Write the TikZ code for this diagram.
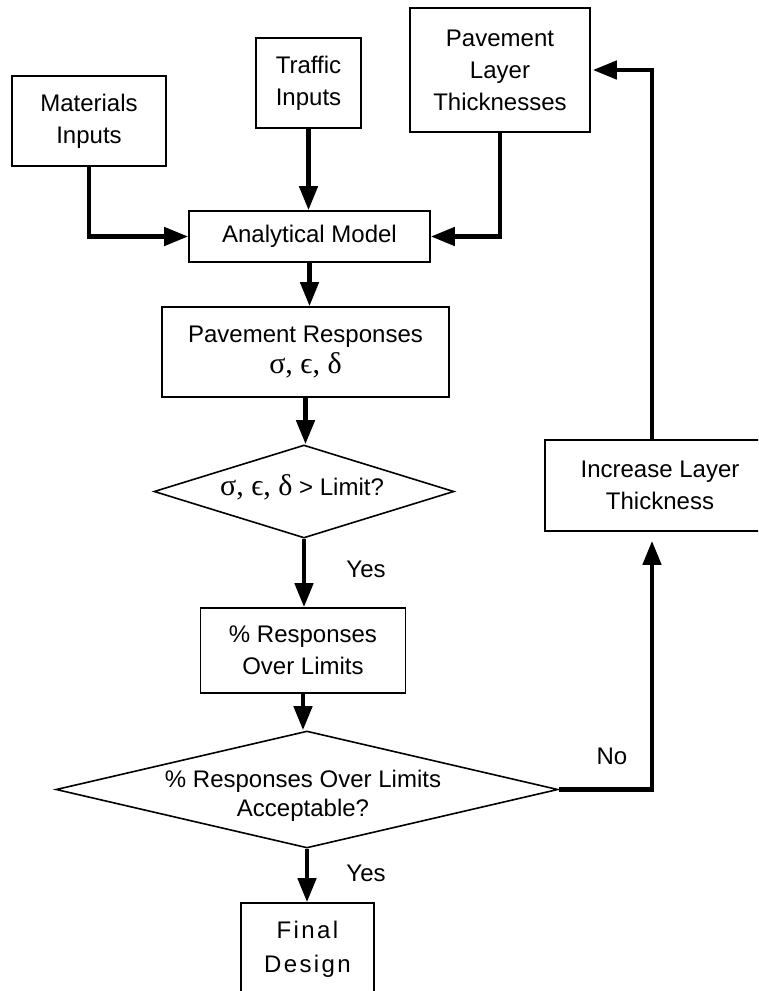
\documentclass[tikz,border=0pt]{standalone}
\usepackage{fontspec}
\setmainfont{Liberation Sans}
\newfontfamily\grk{Liberation Serif}
\newfontfamily\spaced[LetterSpace=10]{Liberation Sans}
\usetikzlibrary{arrows.meta,shapes.geometric}
\newcommand{\gk}[1]{{\grk\fontsize{30}{30}\selectfont #1}}
\begin{document}
\begin{tikzpicture}[x=1pt,y=-1pt,
  font=\fontsize{24}{32}\selectfont,
  box/.style={draw,line width=1.6pt,align=center,inner sep=0pt},
  dia/.style={draw,diamond,line width=1.6pt,inner sep=0pt},
  lbl/.style={align=center,inner sep=0pt},
  arr/.style={line width=4.5pt,-{Triangle[length=24pt,width=18pt]}}]
\clip (0,0) rectangle (758,991);

% input boxes
\node[box,minimum width=154pt,minimum height=90pt] (mat) at (89,121) {Materials\\Inputs};
\node[box,minimum width=105pt,minimum height=90pt] (traf) at (308.5,83) {Traffic\\Inputs};
\node[box,minimum width=180pt,minimum height=124pt] (pav) at (500,70) {Pavement\\Layer\\Thicknesses};

% main chain
\node[box,minimum width=241pt,minimum height=51pt] (am) at (309.5,236.5) {Analytical Model};
\node[box,minimum width=287pt,minimum height=90pt,font=\fontsize{24}{31}\selectfont] (pr) at (305.5,352) {Pavement Responses\\\gk{σ, ϵ, δ}};
\node[dia,minimum width=300pt,minimum height=93pt] (d1) at (304,491.5) {};
\node[lbl] (d1txt) at (302,487) {\gk{σ, ϵ, δ} > Limit?};
\node[box,minimum width=205pt,minimum height=85pt] (por) at (303,650.5) {\% Responses\\Over Limits};
\node[dia,minimum width=502pt,minimum height=117pt] (d2) at (307,789.5) {};
\node[lbl,font=\fontsize{24}{29}\selectfont] (d2txt) at (303,796) {\% Responses Over Limits\\Acceptable?};
\node[box,minimum width=133pt,minimum height=92pt,font=\spaced\fontsize{24}{34}\selectfont] (fin) at (307.5,949) {Final\\Design};

% feedback box
\node[box,minimum width=230pt,minimum height=91pt] (inc) at (660,485.5) {Increase Layer\\Thickness};
\coordinate (fbx) at (652,0);

% branch labels
\node[lbl] (yes1) at (366,569) {Yes};
\node[lbl] (yes2) at (366,873) {Yes};
\node[lbl] (no) at (612,756) {No};

% connectors
\draw[arr] (mat.south) |- (am.west);
\draw[arr] (traf.south) -- (traf.south |- am.north);
\draw[arr] (pav.south) |- (am.east);
\draw[arr] (am.south) -- (am.south |- pr.north);
\draw[arr] (pr.south) -- (pr.south |- d1.north);
\draw[arr] (d1.south) -- (d1.south |- por.north);
\draw[arr] (por.south) -- (por.south |- d2.north);
\draw[arr] (d2.south) -- (d2.south |- fin.north);
\draw[arr,shorten >=9pt] (d2.east) -| (fbx |- inc.south);
\draw[arr,shorten >=2pt] (fbx |- inc.north) |- (pav.east);
\end{tikzpicture}
\end{document}
